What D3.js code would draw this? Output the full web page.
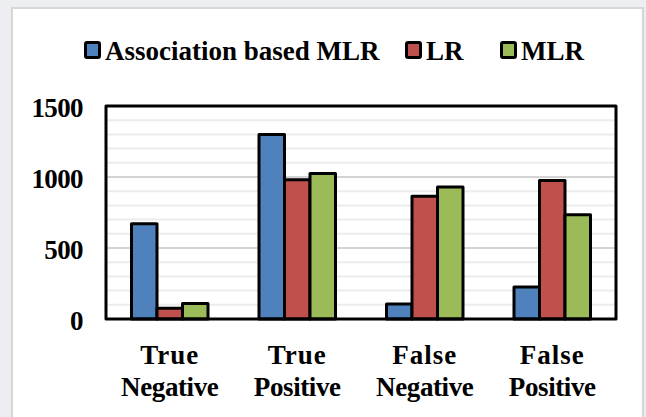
<!DOCTYPE html>
<html>
<head>
<meta charset="utf-8">
<script src="https://cdn.jsdelivr.net/npm/d3@7"></script>
<style>
  body { margin: 0; background: #eceef1; }
  svg { display: block; }
</style>
</head>
<body>
<div id="chart"></div>
<script>
const width = 646, height = 417;
const FONT = '"Liberation Serif"';

// data
const categories = [["True", "Negative"], ["True", "Positive"], ["False", "Negative"], ["False", "Positive"]];
const seriesNames = ["Association based MLR", "LR", "MLR"];
const seriesColors = ["#4f81bd", "#c0504d", "#9bbb59"];
const assocMLR = [670, 1300, 105, 225];
const lrValues = [75, 980, 865, 975];
const mlrValues = [110, 1025, 930, 735];
const yTicks = [0, 500, 1000, 1500];

const seriesValues = [assocMLR, lrValues, mlrValues];

const plot = { left: 106, top: 106, right: 616, bottom: 319 };

const svg = d3.select("#chart").append("svg")
    .attr("width", width)
    .attr("height", height);

// white panel behind the chart
svg.append("rect")
    .attr("x", 12).attr("y", 8)
    .attr("width", 631).attr("height", 430)
    .attr("fill", "#fff")
    .attr("stroke", "#d6d6d6")
    .attr("stroke-width", 2);

const x = d3.scaleBand()
    .domain(d3.range(categories.length))
    .range([plot.left, plot.right])
    .paddingInner(0.4)
    .paddingOuter(0.2);

const xInner = d3.scaleBand()
    .domain(d3.range(seriesNames.length))
    .range([0, x.bandwidth()]);

const y = d3.scaleLinear()
    .domain([0, 1500])
    .range([plot.bottom, plot.top]);

// minor + major gridlines
svg.append("g")
    .selectAll("line")
    .data(d3.range(100, 1500, 100))
    .join("line")
    .attr("x1", plot.left).attr("x2", plot.right)
    .attr("y1", d => y(d)).attr("y2", d => y(d))
    .attr("stroke", d => d % 500 === 0 ? "#d4d4d4" : "#ececec")
    .attr("stroke-width", 2);

// bars
const groups = svg.append("g")
    .selectAll("g")
    .data(categories.map((c, i) => i))
    .join("g")
    .attr("transform", i => `translate(${x(i)},0)`);

groups.selectAll("rect")
    .data(i => seriesValues.map((vals, s) => ({ s: s, v: vals[i] })))
    .join("rect")
    .attr("x", d => xInner(d.s))
    .attr("y", d => y(d.v))
    .attr("width", xInner.bandwidth())
    .attr("height", d => y(0) - y(d.v))
    .attr("fill", d => seriesColors[d.s])
    .attr("stroke", "#000")
    .attr("stroke-width", 3)
    .attr("stroke-linejoin", "round");

// plot frame
svg.append("rect")
    .attr("x", plot.left).attr("y", plot.top)
    .attr("width", plot.right - plot.left)
    .attr("height", plot.bottom - plot.top)
    .attr("fill", "none")
    .attr("stroke", "#000")
    .attr("stroke-width", 3)
    .attr("stroke-linejoin", "round");

// y axis labels
svg.append("g")
    .selectAll("text")
    .data(yTicks)
    .join("text")
    .attr("x", 83)
    .attr("y", d => y(d) + 11)
    .attr("text-anchor", "end")
    .attr("font-family", FONT)
    .attr("font-weight", "bold")
    .attr("font-size", 27)
    .attr("letter-spacing", -0.6)
    .text(d => d);

// x axis labels (two lines)
const xl = svg.append("g")
    .selectAll("text")
    .data(categories)
    .join("text")
    .attr("text-anchor", "middle")
    .attr("font-family", FONT)
    .attr("font-weight", "bold")
    .attr("font-size", 27)
    .attr("x", (d, i) => x(i) + x.bandwidth() / 2);

xl.append("tspan")
    .attr("x", (d, i) => x(i) + x.bandwidth() / 2)
    .attr("y", 364)
    .attr("letter-spacing", 1)
    .text(d => d[0]);

xl.append("tspan")
    .attr("x", (d, i) => x(i) + x.bandwidth() / 2)
    .attr("y", 396)
    .attr("letter-spacing", -0.4)
    .text(d => d[1]);

// legend
const legendX = [84, 405, 500];
const legend = svg.append("g")
    .selectAll("g")
    .data(seriesNames)
    .join("g")
    .attr("transform", (d, i) => `translate(${legendX[i]},41)`);

legend.append("rect")
    .attr("x", 1.5).attr("y", 1.5)
    .attr("width", 14).attr("height", 15)
    .attr("rx", 1.5)
    .attr("fill", (d, i) => seriesColors[i])
    .attr("stroke", "#000")
    .attr("stroke-width", 3);

legend.append("text")
    .attr("x", 21)
    .attr("y", 18.5)
    .attr("font-family", FONT)
    .attr("font-weight", "bold")
    .attr("font-size", 27)
    .text(d => d);
</script>
</body>
</html>
